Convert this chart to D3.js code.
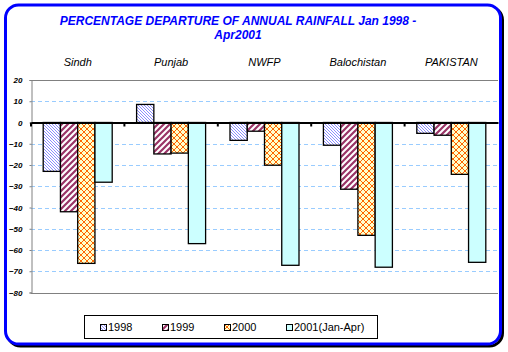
<!DOCTYPE html>
<html>
<head>
<meta charset="utf-8">
<script src="https://cdn.jsdelivr.net/npm/d3@7"></script>
<style>
  body { margin: 0; background: #fff; }
  svg { display: block; font-family: Arial, "Liberation Sans", sans-serif; }
</style>
</head>
<body>
<div id="chart"></div>
<script>
// Data
const regions = ["Sindh", "Punjab", "NWFP", "Balochistan", "PAKISTAN"];
const seriesNames = ["1998", "1999", "2000", "2001(Jan-Apr)"];
const values1998 = [-23, 8.5, -8.4, -10.7, -5.1];
const values1999 = [-42, -14.8, -4.1, -31.4, -6];
const values2000 = [-66.3, -14.4, -20.1, -53.1, -24.4];
const values2001 = [-28.1, -57, -67.2, -68.1, -65.8];
const yTicks = [20, 10, 0, -10, -20, -30, -40, -50, -60, -70, -80];

const allSeries = [values1998, values1999, values2000, values2001];
const data = [];
regions.forEach((r, i) => {
    seriesNames.forEach((s, j) => {
        data.push({ region: r, series: s, value: allSeries[j][i] });
    });
});

const W = 508, H = 352;
const plot = { left: 31, right: 498, top: 80, bottom: 292.5 };

const svg = d3.select("#chart").append("svg")
    .attr("width", W)
    .attr("height", H);

// patterns
const defs = svg.append("defs");
const fills = ["url(#p1998)", "url(#p1999)", "url(#p2000)", "#ccffff"];

const p1 = defs.append("pattern").attr("id", "p1998")
    .attr("patternUnits", "userSpaceOnUse").attr("width", 3).attr("height", 3);
p1.append("rect").attr("width", 3).attr("height", 3).attr("fill", "#fff");
p1.append("path").attr("d", "M0,0 L3,3 M-1,2 L1,4 M2,-1 L4,1")
    .attr("stroke", "#8080ff").attr("stroke-width", 0.9);

const p2 = defs.append("pattern").attr("id", "p1999")
    .attr("patternUnits", "userSpaceOnUse").attr("width", 6).attr("height", 6);
p2.append("rect").attr("width", 6).attr("height", 6).attr("fill", "#fff");
p2.append("path").attr("d", "M0,6 L6,0 M-3,3 L3,-3 M3,9 L9,3")
    .attr("stroke", "#993366").attr("stroke-width", 2.2);

const p3 = defs.append("pattern").attr("id", "p2000")
    .attr("patternUnits", "userSpaceOnUse").attr("width", 6).attr("height", 6);
p3.append("rect").attr("width", 6).attr("height", 6).attr("fill", "#ffffcc");
p3.append("path").attr("d", "M0,0 L6,6 M6,0 L0,6")
    .attr("stroke", "#ff6600").attr("stroke-width", 1);

// outer frame with shadow
svg.append("rect")
    .attr("x", 7.5).attr("y", 7).attr("width", 495).attr("height", 339)
    .attr("rx", 13).attr("fill", "none")
    .attr("stroke", "#000").attr("stroke-width", 3);
svg.append("rect")
    .attr("x", 5.5).attr("y", 5).attr("width", 495).attr("height", 339)
    .attr("rx", 13).attr("fill", "#fff")
    .attr("stroke", "#0000ff").attr("stroke-width", 3);

// title
const title = svg.append("text")
    .attr("text-anchor", "middle")
    .attr("fill", "#0000ff")
    .style("font-size", "12px")
    .style("font-weight", "bold")
    .style("font-style", "italic");
title.append("tspan").attr("x", 238).attr("y", 25)
    .text("PERCENTAGE DEPARTURE OF ANNUAL RAINFALL Jan 1998 -");
title.append("tspan").attr("x", 238).attr("y", 39).text("Apr2001");

// scales
const x0 = d3.scaleBand()
    .domain(regions)
    .range([plot.left, plot.right]);
const x1 = d3.scaleBand()
    .domain(seriesNames)
    .range([0, x0.bandwidth()])
    .paddingOuter(0.707);
const y = d3.scaleLinear()
    .domain([-80, 20])
    .range([plot.bottom, plot.top]);

// gridlines
svg.append("g")
    .selectAll("line")
    .data(yTicks.filter(d => d !== 20 && d !== -80 && d !== 0))
    .join("line")
    .attr("x1", plot.left).attr("x2", plot.right)
    .attr("y1", d => Math.round(y(d)) + 0.5).attr("y2", d => Math.round(y(d)) + 0.5)
    .attr("stroke", "#99ccff")
    .attr("stroke-dasharray", "4,3");

// top and bottom border lines
[20, -80].forEach(v => {
    svg.append("line")
        .attr("x1", plot.left).attr("x2", plot.right)
        .attr("y1", Math.round(y(v)) + 0.5).attr("y2", Math.round(y(v)) + 0.5)
        .attr("stroke", "#808080");
});

// y axis
const yAxis = svg.append("g")
    .attr("transform", `translate(${plot.left + 0.5},0)`)
    .call(d3.axisLeft(y).tickValues(yTicks).tickSize(2).tickPadding(7));
yAxis.select(".domain").attr("stroke", "#808080");
yAxis.selectAll(".tick line").attr("stroke", "#808080");
yAxis.selectAll("text")
    .style("font-size", "8px")
    .style("font-style", "italic")
    .style("font-weight", "bold")
    .attr("fill", "#000");

// bars
svg.append("g")
    .selectAll("rect")
    .data(data)
    .join("rect")
    .attr("x", d => x0(d.region) + x1(d.series))
    .attr("y", d => y(Math.max(0, d.value)))
    .attr("width", x1.bandwidth())
    .attr("height", d => Math.abs(y(d.value) - y(0)))
    .attr("fill", d => fills[seriesNames.indexOf(d.series)])
    .attr("stroke", "#000")
    .attr("stroke-width", 1.3);

// zero axis with category ticks
const xAxis = svg.append("g")
    .attr("transform", `translate(0,${y(0)})`)
    .call(d3.axisBottom(x0).tickSize(0).tickFormat(""));
xAxis.select(".domain").attr("stroke", "#000").attr("stroke-width", 2.2);
xAxis.selectAll(".tick").remove();
xAxis.selectAll(".ctick")
    .data(regions)
    .join("line")
    .attr("class", "ctick")
    .attr("x1", d => x0(d)).attr("x2", d => x0(d))
    .attr("y1", 0).attr("y2", 4)
    .attr("stroke", "#000").attr("stroke-width", 2);

// category labels at top
svg.append("g")
    .selectAll("text")
    .data(regions)
    .join("text")
    .attr("x", d => x0(d) + x0.bandwidth() / 2)
    .attr("y", 66)
    .attr("text-anchor", "middle")
    .style("font-size", "11px")
    .style("font-style", "italic")
    .text(d => d);

// legend
const legend = svg.append("g");
legend.append("rect")
    .attr("x", 84.5).attr("y", 315.5).attr("width", 293).attr("height", 23)
    .attr("fill", "#fff").attr("stroke", "#000");
const legX = [100, 162, 224, 286];
const items = legend.selectAll(".item")
    .data(seriesNames)
    .join("g")
    .attr("class", "item")
    .attr("transform", (d, i) => `translate(${legX[i]},0)`);
items.append("rect")
    .attr("x", 0.5).attr("y", 324.5).attr("width", 6).attr("height", 6)
    .attr("fill", (d, i) => fills[i])
    .attr("stroke", "#000").attr("stroke-width", 1);
items.append("text")
    .attr("x", 8).attr("y", 331)
    .style("font-size", "11px")
    .text(d => d);
</script>
</body>
</html>
